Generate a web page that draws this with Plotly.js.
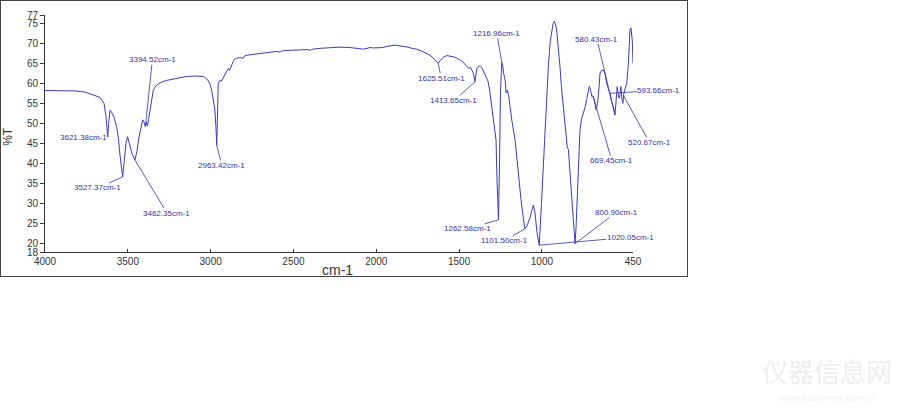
<!DOCTYPE html>
<html>
<head>
<meta charset="utf-8">
<script src="https://cdn.plot.ly/plotly-3.0.1.min.js"></script>
<style>
  html, body { margin:0; padding:0; background:#fff; }
  #wrap { position:relative; width:900px; height:410px; }
  #chart { position:absolute; left:0; top:0; width:900px; height:410px; }
  #frame { position:absolute; left:0; top:0; width:686px; height:275px; border:1px solid #444; pointer-events:none; }
</style>
</head>
<body>
<div id="wrap">
  <div id="chart"></div>
  <div id="frame"></div>
</div>
<script>
// Spectrum: wavenumber (cm-1) and transmittance (%T)
const wavenumber = [
 4000,3909,3819,3758,3698,3668,3644,3632,3626,3621,3616,3607,3598,3583,3567,3556,3547,3538,3531,3523,
 3511,3501,3490,3475,3457,3445,3433,3423,3410,3404,3394,3387,3381,3375,3366,3357,3346,3330,3306,3269,
 3227,3185,3145,3094,3044,3016,3004,2994,2983,2974,2968,2963,2960,2954,2943,2934,2925,2913,2904,2893,
 2886,2880,2871,2862,2850,2835,2817,2803,2793,2762,2720,2682,2642,2605,2581,2563,2521,2480,2442,2412,
 2400,2382,2340,2279,2219,2159,2122,2098,2078,2056,2038,2018,1996,1959,1935,1911,1887,1857,1837,1808,
 1784,1756,1730,1696,1676,1656,1639,1626,1615,1595,1573,1555,1525,1495,1476,1454,1440,1431,1414,1404,
 1393,1383,1373,1361,1349,1333,1325,1313,1304,1293,1283,1277,1271,1267,1262,1256,1250,1242,1237,1231,
 1222,1216,1208,1200,1192,1182,1162,1144,1126,1111,1102,1090,1072,1052,1042,1030,1016,1009,1001,990,
 981,972,961,951,941,933,925,918,911,900,891,882,871,860,854,847,840,830,818,806,
 800,794,786,779,770,761,750,740,730,722,714,707,699,692,683,673,664,655,649,640,
 629,619,609,598,589,580,569,559,553,545,539,533,528,523,517,511,505,499,488,479,
 473,468,462,454,450
];
const transmittance = [
 58.2,58.2,58.1,57.8,57.0,56.5,55.0,52.0,49.0,46.6,50.0,53.3,52.8,51.5,49.0,46.0,42.0,38.0,36.7,40.0,
 45.0,46.7,45.0,42.5,40.9,43.0,46.5,48.8,50.9,50.5,49.2,50.3,49.4,51.0,53.3,56.0,58.3,59.4,60.1,60.7,
 61.1,61.5,61.7,61.8,61.7,60.8,59.8,58.3,56.0,53.3,49.0,44.6,50.0,60.0,60.8,60.5,61.3,62.1,63.0,63.7,
 63.2,63.9,64.9,65.6,66.2,66.3,66.4,66.2,66.9,67.1,67.3,67.6,67.7,67.9,67.8,68.1,68.2,68.3,68.5,68.4,
 68.2,68.5,68.7,68.9,69.0,68.9,68.8,68.6,68.5,68.7,68.9,68.8,68.9,68.9,69.2,69.4,69.5,69.3,69.2,69.0,
 68.7,68.5,68.1,67.5,67.0,66.3,65.6,65.0,65.6,66.5,66.9,66.8,66.5,65.8,65.3,64.2,63.7,64.0,62.5,60.4,
 63.6,64.2,64.3,63.8,62.7,61.3,60.5,57.5,54.5,51.7,48.0,45.9,36.0,30.5,26.0,40.0,58.0,65.2,64.5,62.5,
 60.8,57.6,58.3,56.7,53.5,50.9,45.9,38.0,31.0,26.0,23.8,24.5,26.5,29.7,28.0,23.0,19.7,25.0,31.7,42.0,
 48.4,56.0,64.2,70.0,73.3,74.8,75.4,74.8,73.3,69.0,64.2,59.0,54.2,49.0,45.9,44.2,43.5,38.0,30.0,23.0,
 20.1,24.0,31.7,40.0,48.4,51.0,52.5,54.0,55.9,57.5,59.2,58.5,56.7,56.9,55.8,53.4,55.0,59.0,62.5,63.2,
 63.3,62.5,60.0,58.5,57.5,55.5,54.2,52.1,55.0,59.2,57.0,56.3,57.5,59.2,56.0,55.0,57.5,58.5,60.0,64.2,
 70.0,73.3,73.8,70.5,65.0
];

// Peak labels
const peakLabels = ['3621.38cm-1','3527.37cm-1','3462.35cm-1','3394.52cm-1','2963.42cm-1','1625.51cm-1',
  '1413.65cm-1','1216.96cm-1','1262.58cm-1','1101.50cm-1','800.90cm-1','1020.05cm-1',
  '580.43cm-1','593.66cm-1','520.67cm-1','669.45cm-1'];
const peakWn = [3621,3531,3457,3394,2963,1626,1404,1242,1262,1102,800,1016,559,589,508,692];
const peakT  = [46.6,36.7,40.9,49.2,44.6,65.0,60.4,65.2,26.0,23.8,20.1,19.7,52.1,57.5,57.0,56.9];
// label offsets (pixels) - styling only
const labelDx = [-24,-25,32,7,5,3,-21,-5,-31,-21,41,91,-18,49,26,19];
const labelDy = [0,11,53,-67,20,15,19,-29,9,12,-31,-8,-76,-3,47,65];

// Axis ticks
const xTicks = [4000,3500,3000,2500,2000,1500,1000,450];
const yTicks = [77,75,70,65,60,55,50,45,40,35,30,25,20,18];

const lineColor = 'rgb(60,60,190)';
const labelColor = 'rgb(50,50,170)';

const annotations = peakLabels.map((t,i)=>({
  x: peakWn[i], y: peakT[i], xref:'x', yref:'y',
  text: t, showarrow:true, arrowhead:0, arrowwidth:0.8, arrowcolor:labelColor,
  ax: labelDx[i], ay: labelDy[i], standoff:0, startstandoff:0, borderpad:0,
  font:{family:'Liberation Sans, Arial, sans-serif', size:8, color:labelColor}
}));

annotations.push({
  xref:'paper', yref:'paper', x:-0.063, y:0.49, xanchor:'center', yanchor:'middle',
  text:'%T', showarrow:false, textangle:-90,
  font:{family:'Liberation Sans, Arial, sans-serif', size:12, color:'#333'}
});
annotations.push({
  xref:'paper', yref:'paper', x:0.498, y:-0.078, xanchor:'center', yanchor:'middle',
  text:'cm-1', showarrow:false,
  font:{family:'Liberation Sans, Arial, sans-serif', size:14, color:'#333'}
});
// faint watermark
annotations.push({
  xref:'paper', yref:'paper', x:1.33, y:-0.50, xanchor:'center', yanchor:'middle', text:'仪器信息网', showarrow:false,
  font:{family:'Noto Sans CJK SC, sans-serif', size:26, color:'#efefef'}
});
annotations.push({
  xref:'paper', yref:'paper', x:1.33, y:-0.615, xanchor:'center', yanchor:'middle', text:'www.instrument.com.cn', showarrow:false,
  font:{family:'Liberation Sans, Arial, sans-serif', size:9, color:'#f2f2f2'}
});

const trace = {
  x: wavenumber, y: transmittance, type:'scatter', mode:'lines',
  line:{color:lineColor, width:1}, hoverinfo:'skip'
};

const layout = {
  width:900, height:410,
  margin:{l:45, r:267, t:15, b:158},
  paper_bgcolor:'#fff', plot_bgcolor:'#fff',
  showlegend:false,
  xaxis:{
    range:[4000,450], tickvals:xTicks, ticktext:xTicks.map(String),
    showgrid:false, zeroline:false, showline:true, linecolor:'#333', linewidth:1,
    ticks:'inside', ticklen:3, tickcolor:'#333',
    tickfont:{family:'Liberation Sans, Arial, sans-serif', size:10, color:'#333'}
  },
  yaxis:{
    range:[18,77], tickvals:yTicks, ticktext:yTicks.map(String),
    showgrid:false, zeroline:false, showline:true, linecolor:'#333', linewidth:1,
    ticks:'outside', ticklen:4, tickcolor:'#333',
    tickfont:{family:'Liberation Sans, Arial, sans-serif', size:10, color:'#333'}
  },
  annotations: annotations
};

Plotly.newPlot('chart', [trace], layout, {staticPlot:true, displayModeBar:false});
</script>
</body>
</html>
